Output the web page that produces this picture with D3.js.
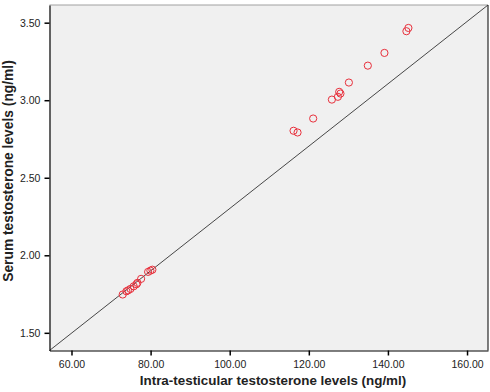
<!DOCTYPE html>
<html><head><meta charset="utf-8">
<script src="https://cdn.jsdelivr.net/npm/d3@7"></script>
<style>body{margin:0;background:#fff}svg{display:block}</style>
</head><body>
<svg id="c" width="490" height="392"></svg>
<script>
const intraT = [72.95,73.89,74.32,74.9,75.73,76.41,76.67,77.6,79.37,79.95,80.45,
  116.14,117.15,121.1,125.83,127.35,127.68,128.0,130.13,134.92,139.12,144.67,145.18];
const serumT = [1.747,1.768,1.774,1.783,1.800,1.813,1.822,1.848,1.893,1.901,1.907,
  2.803,2.792,2.882,3.004,3.022,3.054,3.043,3.114,3.223,3.305,3.445,3.466];
const xTicks = [60,80,100,120,140,160];
const yTicks = [1.5,2.0,2.5,3.0,3.5];
const xDomain = [54.44,165.3];
const yDomain = [1.386,3.614];

const svg = d3.select('#c');
const L=49.5, R=488, T=5, B=350.5;
const x = d3.scaleLinear().domain(xDomain).range([L,R]);
const y = d3.scaleLinear().domain(yDomain).range([B,T]);

svg.append('rect').attr('x',L).attr('y',T).attr('width',R-L).attr('height',B-T).attr('fill','#f0f0f0');
svg.append('line').attr('x1',L).attr('x2',R).attr('y1',T).attr('y2',T).attr('stroke','#a0a0a0');
svg.append('line').attr('x1',R).attr('x2',R).attr('y1',T).attr('y2',B).attr('stroke','#000');

// reference line
svg.append('line').attr('x1',x(xDomain[0])).attr('y1',y(yDomain[0]))
  .attr('x2',x(xDomain[1])).attr('y2',y(yDomain[1])).attr('stroke','#333').attr('stroke-width',0.9);

const xa = svg.append('g').attr('transform',`translate(0,${B})`)
  .call(d3.axisBottom(x).tickValues(xTicks).tickFormat(d3.format('.2f')).tickSize(5).tickSizeOuter(0));
const ya = svg.append('g').attr('transform',`translate(${L},0)`)
  .call(d3.axisLeft(y).tickValues(yTicks).tickFormat(d3.format('.2f')).tickSize(5).tickSizeOuter(0));
[xa,ya].forEach(a=>{
  a.select('.domain').attr('stroke','#000').attr('stroke-width',1.2);
  a.selectAll('.tick line').attr('stroke','#000').attr('stroke-width',1.5);
  a.selectAll('text').attr('font-family','Arial, Liberation Sans, sans-serif').attr('font-size',10.5).attr('fill','#222');
});
xa.selectAll('text').attr('dy','0.95em');
ya.selectAll('text').attr('dx','-0.1em');

svg.append('g').selectAll('circle').data(intraT).join('circle')
  .attr('cx',(d)=>x(d)).attr('cy',(d,i)=>y(serumT[i])).attr('r',3.6)
  .attr('fill','none').attr('stroke','#e8303c').attr('stroke-width',1);

svg.append('text').attr('x',273).attr('y',385).attr('text-anchor','middle')
  .attr('font-family','Arial, Liberation Sans, sans-serif').attr('font-weight','bold').attr('font-size',13.4).attr('fill','#222')
  .text('Intra-testicular testosterone levels (ng/ml)');
svg.append('text').attr('transform','translate(13,171) rotate(-90)').attr('text-anchor','middle')
  .attr('font-family','Arial, Liberation Sans, sans-serif').attr('font-weight','bold').attr('font-size',13.8).attr('fill','#222')
  .text('Serum testosterone levels (ng/ml)');
</script>
</body></html>
